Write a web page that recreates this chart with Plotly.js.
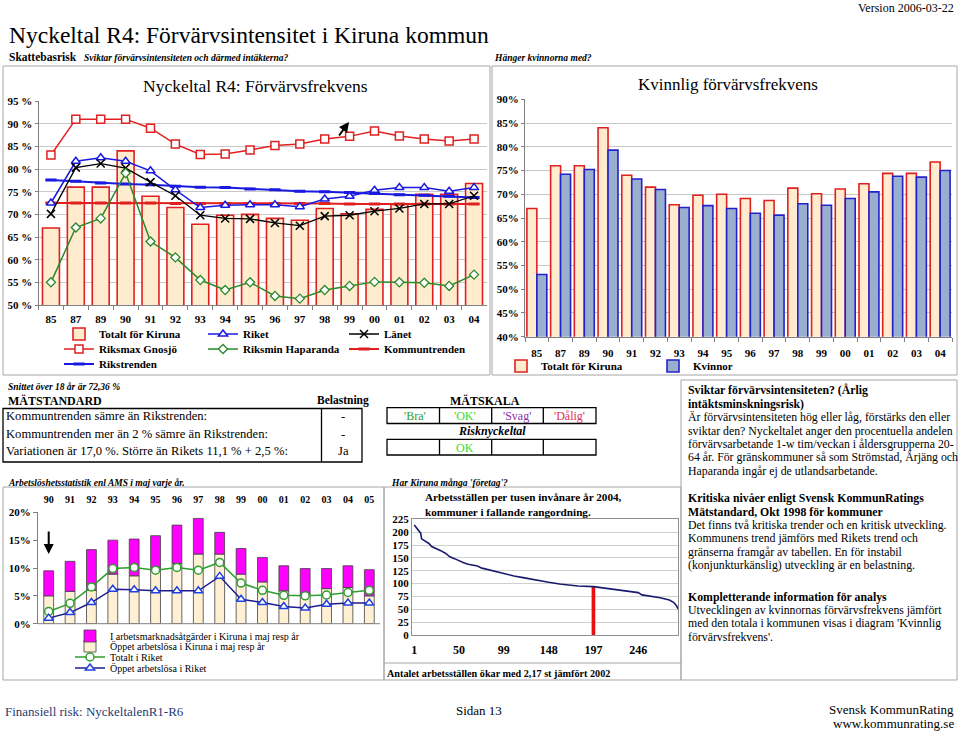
<!DOCTYPE html>
<html><head><meta charset="utf-8">
<script src="https://cdn.plot.ly/plotly-3.0.1.min.js"></script>
<style>html,body{margin:0;padding:0;background:#fff}#chart{width:960px;height:732px}</style>
</head><body><div id="chart"></div>
<script>
// ---------- DATA ----------
const years = ['85','87','89','90','91','92','93','94','95','96','97','98','99','00','01','02','03','04'];
const totaltKiruna = [67.0,76.0,76.0,84.0,74.0,71.5,67.8,69.8,70.0,69.1,68.7,71.3,70.1,71.1,72.2,74.4,74.4,76.8];
const riket = [72.5,81.7,82.5,81.7,79.6,75.4,71.5,72.0,72.1,72.1,71.7,73.4,74.0,75.3,75.9,75.9,75.1,75.9];
const lanet = [70.1,80.3,81.2,80.2,77.1,74.1,69.8,69.1,69.0,68.1,67.5,69.6,69.8,70.7,71.3,72.3,72.3,74.1];
const riksmaxGnosjo = [83.1,91.0,91.0,91.0,89.0,85.5,83.2,83.3,84.2,85.2,85.5,86.6,87.2,88.4,87.3,86.6,86.2,86.6];
const riksminHaparanda = [55.0,67.1,69.1,79.1,64.0,60.5,55.5,53.3,55.0,52.0,51.4,53.3,54.2,55.1,55.0,54.9,54.2,56.7];
const kommuntrenden = [72.5,72.5,72.5,72.5,72.5,72.4,72.4,72.4,72.4,72.4,72.4,72.4,72.3,72.3,72.3,72.3,72.3,72.3];
const rikstrenden = [77.6,77.3,76.9,76.7,76.5,76.2,76.0,75.9,75.6,75.4,75.1,75.0,74.8,74.6,74.3,74.2,74.0,73.7];
const kvinnor = [53.1,74.2,75.2,79.3,73.2,71.0,67.2,67.6,67.0,66.0,65.6,68.0,67.7,69.1,70.5,73.8,73.6,75.0];

const uYears = ['90','91','92','93','94','95','96','97','98','99','00','01','02','03','04','05'];
const oppetKiruna = [5.0,5.8,6.0,8.9,8.6,10.0,10.8,12.5,12.5,8.9,7.5,5.9,5.2,6.3,6.5,5.0];
const atgarderKiruna = [4.5,5.4,7.3,6.1,6.6,5.8,6.9,6.4,3.9,4.6,4.4,4.5,4.7,3.6,3.9,4.7];
const totaltRiket = [2.2,3.65,6.6,9.9,10.1,9.6,10.1,9.6,11.0,7.3,6.0,5.1,5.0,5.15,5.6,6.0];
const oppetRiket = [1.0,2.0,3.8,6.2,6.1,5.9,5.9,5.9,8.5,4.4,3.8,3.1,2.8,3.5,3.7,3.7];

const ranks = [1,3,5,8,9,12,17,20,25,30,35,40,45,50,55,60,70,75,80,90,99,110,120,130,140,148,160,170,180,197,210,220,230,240,246,250,260,270,280,285,288,290];
const arbetsstallen = [214,209,204,198,187,183.5,178,172,168.6,164,159,152,148.5,144,140.7,137.5,134,130,127.8,123,119.3,114.8,111.5,108.3,103.8,102.5,99.2,97.3,95.3,94,90.8,88.2,86.3,83.7,82.4,78,75.9,72.6,68,63,56.4,50];
const rankTicks = [1,50,99,148,197,246];
const kirunaRank = 197;
const kirunaValue = 95;

// ---------- HELPERS ----------
const W = 960, H = 732;
const SERIF = 'Liberation Serif, Times New Roman, serif';
const px = x => x / W;
const py = y => 1 - y / H;
const RED = '#E02020', BLUE = '#1A1AE0', GREEN = '#2A8A2A', PEACH = '#FFEBCD';

function txt(x, y, text, o) {
  o = o || {};
  return {x: px(x), y: py(y), xref: 'paper', yref: 'paper', text: text, showarrow: false,
    xanchor: o.anchor || 'left', yanchor: 'middle', borderpad: 0,
    font: {family: SERIF, size: o.size || 11, color: o.color || '#000',
      weight: o.bold ? 'bold' : 'normal', style: o.italic ? 'italic' : 'normal'}};
}
function rect(x0, y0, x1, y1, color, w) {
  return {type: 'rect', xref: 'paper', yref: 'paper', x0: px(x0), x1: px(x1), y0: py(y0), y1: py(y1),
    line: {color: color || '#A6A6A6', width: w || 1}, fillcolor: 'rgba(0,0,0,0)'};
}
function hline(x0, x1, y, color, w) {
  return {type: 'line', xref: 'paper', yref: 'paper', x0: px(x0), x1: px(x1), y0: py(y), y1: py(y),
    line: {color: color || '#A6A6A6', width: w || 1}};
}
function vline(x, y0, y1, color, w) {
  return {type: 'line', xref: 'paper', yref: 'paper', x0: px(x), x1: px(x), y0: py(y0), y1: py(y1),
    line: {color: color || '#A6A6A6', width: w || 1}};
}
function leg(textX, y, bold, size) {
  return {x: px(textX - 40), y: py(y), xanchor: 'left', yanchor: 'middle', orientation: 'v',
    bgcolor: 'rgba(0,0,0,0)', borderwidth: 0, itemwidth: 30, tracegroupgap: 0,
    font: {family: SERIF, size: size || 11, color: '#000', weight: bold ? 'bold' : 'normal'}};
}
const tickFont = s => ({family: SERIF, size: s || 11, color: '#000', weight: 'bold'});

// ---------- TRACES ----------
const traces = [];
// top-left
traces.push({type: 'bar', name: 'Totalt för Kiruna', x: years, y: totaltKiruna, xaxis: 'x', yaxis: 'y',
  width: 0.68, offset: -0.34, marker: {color: PEACH, line: {color: RED, width: 1.6}}, legend: 'legend'});
traces.push({type: 'scatter', mode: 'lines+markers', name: 'Kommuntrenden', x: years, y: kommuntrenden, xaxis: 'x', yaxis: 'y',
  line: {color: RED, width: 2}, marker: {symbol: 'line-ew', size: 8, line: {color: RED, width: 3}}, legend: 'legend6'});
traces.push({type: 'scatter', mode: 'lines+markers', name: 'Rikstrenden', x: years, y: rikstrenden, xaxis: 'x', yaxis: 'y',
  line: {color: BLUE, width: 2}, marker: {symbol: 'line-ew', size: 8, line: {color: BLUE, width: 3}}, legend: 'legend7'});
traces.push({type: 'scatter', mode: 'lines+markers', name: 'Riket', x: years, y: riket, xaxis: 'x', yaxis: 'y',
  line: {color: BLUE, width: 1.5}, marker: {symbol: 'triangle-up', size: 8, color: '#fff', line: {color: BLUE, width: 1.5}}, legend: 'legend2'});
traces.push({type: 'scatter', mode: 'lines+markers', name: 'Länet', x: years, y: lanet, xaxis: 'x', yaxis: 'y',
  line: {color: '#000', width: 1.3}, marker: {symbol: 'x-thin', size: 8, color: '#000', line: {color: '#000', width: 1.5}}, legend: 'legend3'});
traces.push({type: 'scatter', mode: 'lines+markers', name: 'Riksmax Gnosjö', x: years, y: riksmaxGnosjo, xaxis: 'x', yaxis: 'y',
  line: {color: RED, width: 1.5}, marker: {symbol: 'square', size: 8, color: '#fff', line: {color: RED, width: 1.5}}, legend: 'legend4'});
traces.push({type: 'scatter', mode: 'lines+markers', name: 'Riksmin Haparanda', x: years, y: riksminHaparanda, xaxis: 'x', yaxis: 'y',
  line: {color: GREEN, width: 1.5}, marker: {symbol: 'diamond', size: 7, color: '#fff', line: {color: GREEN, width: 1.3}}, legend: 'legend5'});
// top-right
traces.push({type: 'bar', name: 'Totalt för Kiruna', x: years, y: totaltKiruna, xaxis: 'x2', yaxis: 'y2',
  width: 0.42, offset: -0.42, marker: {color: PEACH, line: {color: RED, width: 1.6}}, legend: 'legend8'});
traces.push({type: 'bar', name: 'Kvinnor', x: years, y: kvinnor, xaxis: 'x2', yaxis: 'y2',
  width: 0.42, offset: 0, marker: {color: '#9AAFCD', line: {color: '#2222CC', width: 1.6}}, legend: 'legend9'});
// bottom-left
traces.push({type: 'bar', name: 'Öppet arbetslösa i Kiruna i maj resp år', x: uYears, y: oppetKiruna, xaxis: 'x3', yaxis: 'y3',
  width: 0.46, offset: -0.23, marker: {color: '#FFF0D4', line: {color: '#404040', width: 0.8}}, legend: 'legend11'});
traces.push({type: 'bar', name: 'I arbetsmarknadsåtgärder i Kiruna i maj resp år', x: uYears, y: atgarderKiruna, base: oppetKiruna, xaxis: 'x3', yaxis: 'y3',
  width: 0.46, offset: -0.23, marker: {color: '#FF00FF', line: {color: '#404040', width: 0.8}}, legend: 'legend10'});
traces.push({type: 'scatter', mode: 'lines+markers', name: 'Totalt i Riket', x: uYears, y: totaltRiket, xaxis: 'x3', yaxis: 'y3',
  line: {color: '#2E9E2E', width: 1.5}, marker: {symbol: 'circle', size: 8, color: '#fff', line: {color: '#2E9E2E', width: 1.5}}, legend: 'legend12'});
traces.push({type: 'scatter', mode: 'lines+markers', name: 'Öppet arbetslösa i Riket', x: uYears, y: oppetRiket, xaxis: 'x3', yaxis: 'y3',
  line: {color: '#1C1C8C', width: 1.5}, marker: {symbol: 'triangle-up', size: 8, color: '#fff', line: {color: '#2040E0', width: 1.5}}, legend: 'legend13'});
// bottom-middle
traces.push({type: 'scatter', mode: 'lines', x: ranks, y: arbetsstallen, xaxis: 'x4', yaxis: 'y4',
  line: {color: '#1B1B6E', width: 1.6}, showlegend: false});
traces.push({type: 'bar', x: [kirunaRank], y: [kirunaValue], xaxis: 'x4', yaxis: 'y4', width: 4,
  marker: {color: '#E81010', line: {width: 0}}, showlegend: false});

// ---------- TEXT ----------
const ann = [];
ann.push(txt(955, 8, 'Version 2006-03-22', {anchor: 'right', size: 12}));
ann.push(txt(8, 35, 'Nyckeltal R4: Förvärvsintensitet i Kiruna kommun', {size: 23.5}));
ann.push(txt(8, 57, 'Skattebasrisk', {size: 11.5, bold: true}));
ann.push(txt(83, 57.5, 'Sviktar förvärvsintensiteten och därmed intäkterna?', {size: 9.5, italic: true, bold: true}));
ann.push(txt(493, 57.5, 'Hänger kvinnorna med?', {size: 9.5, italic: true, bold: true}));
ann.push(txt(255, 86, 'Nyckeltal R4: Förvärvsfrekvens', {anchor: 'center', size: 17.5}));
ann.push(txt(728, 84, 'Kvinnlig förvärvsfrekvens', {anchor: 'center', size: 17}));

// middle
ann.push(txt(7, 387, 'Snittet över 18 år är 72,36 %', {size: 9.5, italic: true, bold: true}));
ann.push(txt(7, 400.5, 'MÄTSTANDARD', {size: 12, bold: true}));
ann.push(txt(342.5, 400.5, 'Belastning', {anchor: 'center', size: 11.5, bold: true}));
const stdRows = ['Kommuntrenden sämre än Rikstrenden:', 'Kommuntrenden mer än 2 % sämre än Rikstrenden:', 'Variationen är 17,0 %. Större än Rikets 11,1 % + 2,5 %:'];
const stdVals = ['-', '-', 'Ja'];
stdRows.forEach((r, i) => {
  ann.push(txt(4.5, 416 + i * 17.5, r, {size: 12.6}));
  ann.push(txt(343, 416 + i * 17.5, stdVals[i], {anchor: 'center', size: 12.6}));
});
ann.push(txt(485, 400.5, 'MÄTSKALA', {anchor: 'center', size: 12, bold: true}));
const scale = [['\'Bra\'', '#2E9E2E', 415], ['\'OK\'', '#33DD33', 465], ['\'Svag\'', '#8833AA', 517], ['\'Dålig\'', '#E03050', 569]];
scale.forEach(s => ann.push(txt(s[2], 415.5, s[0], {anchor: 'center', size: 12, color: s[1]})));
ann.push(txt(491.5, 431.5, 'Risknyckeltal', {anchor: 'center', size: 12, bold: true, italic: true}));
ann.push(txt(465, 447.5, 'OK', {anchor: 'center', size: 12, color: '#33DD33'}));
ann.push(txt(7, 483, 'Arbetslöshetsstatistik enl AMS i maj varje år.', {size: 9.5, italic: true, bold: true}));
ann.push(txt(390, 483, 'Har Kiruna många \'företag\'?', {size: 9.5, italic: true, bold: true}));

// bottom-middle chart text
ann.push(txt(424, 497, 'Arbetsställen per tusen invånare år 2004,', {size: 11.2, bold: true}));
ann.push(txt(424, 512, 'kommuner i fallande rangordning.', {size: 11.2, bold: true}));
ann.push(txt(386, 673, 'Antalet arbetsställen ökar med 2,17 st jämfört 2002', {size: 10.2, bold: true}));

// right column
const rightLines = [
  ['Sviktar förvärvsintensiteten? (Årlig', 390, true],
  ['intäktsminskningsrisk)', 404, true],
  ['Är förvärvsintensiteten hög eller låg, förstärks den eller', 417, false],
  ['sviktar den? Nyckeltalet anger den procentuella andelen', 431, false],
  ['förvärvsarbetande 1-w tim/veckan i åldersgrupperna 20-', 444, false],
  ['64 år. För gränskommuner så som Strömstad, Årjäng och', 457, false],
  ['Haparanda ingår ej de utlandsarbetande.', 471, false],
  ['Kritiska nivåer enligt Svensk KommunRatings', 498, true],
  ['Mätstandard, Okt 1998 för kommuner', 512, true],
  ['Det finns två kritiska trender och en kritisk utveckling.', 525, false],
  ['Kommunens trend jämförs med Rikets trend och', 538, false],
  ['gränserna framgår av tabellen. En för instabil', 552, false],
  ['(konjunkturkänslig) utveckling är en belastning.', 565, false],
  ['Kompletterande information för analys', 597, true],
  ['Utvecklingen av kvinnornas förvärvsfrekvens jämfört', 610, false],
  ['med den totala i kommunen visas i diagram \'Kvinnlig', 623, false],
  ['förvärvsfrekvens\'.', 637, false]
];
rightLines.forEach(l => ann.push(txt(687, l[1], l[0], {size: 11.8, bold: l[2]})));

// footer
ann.push(txt(4, 711, 'Finansiell risk: NyckeltalenR1-R6', {size: 13, color: '#1F3B73'}));
ann.push(txt(479, 710, 'Sidan 13', {anchor: 'center', size: 13}));
ann.push(txt(955, 709, 'Svensk KommunRating', {anchor: 'right', size: 13}));
ann.push(txt(955, 723, 'www.kommunrating.se', {anchor: 'right', size: 13}));

// arrows
ann.push({x: px(349), y: py(122), xref: 'paper', yref: 'paper', text: '', showarrow: true,
  ax: -11, ay: 15, arrowhead: 2, arrowsize: 1, arrowwidth: 2, arrowcolor: '#000'});
ann.push({x: px(48.7), y: py(554), xref: 'paper', yref: 'paper', text: '', showarrow: true,
  ax: 0, ay: -24, arrowhead: 2, arrowsize: 1, arrowwidth: 2, arrowcolor: '#000'});

// ---------- SHAPES ----------
const K = '#000';
const shapes = [
  rect(3, 66, 490, 375), rect(492, 66, 957, 375),
  rect(3, 487, 384, 680), rect(384, 487, 681, 680), hline(384, 681, 663),
  rect(681, 380, 957, 680),
  // Mätstandard table
  rect(3, 408.5, 362, 462, K, 1.3), vline(321.5, 408.5, 462, K, 1.3),
  // Mätskala boxes
  rect(387, 407.7, 596, 423.5, K, 1.3), vline(439.5, 407.7, 423.5, K, 1.3), vline(491.7, 407.7, 423.5, K, 1.3), vline(543.3, 407.7, 423.5, K, 1.3),
  rect(387, 439.3, 596, 455, K, 1.3), vline(439.5, 439.3, 455, K, 1.3), vline(491.7, 439.3, 455, K, 1.3), vline(543.3, 439.3, 455, K, 1.3),
  // bottom-left x axis baseline
  hline(38, 380, 623.7, '#808080', 1)
];

// ---------- LAYOUT ----------
const layout = {
  width: W, height: H, margin: {l: 0, r: 0, t: 0, b: 0}, paper_bgcolor: '#fff', plot_bgcolor: 'rgba(0,0,0,0)',
  barmode: 'overlay', font: {family: SERIF, color: '#000'},
  xaxis: {domain: [px(38.5), px(486.5)], anchor: 'y', type: 'category', range: [-0.5, 17.5],
    showline: true, linecolor: '#808080', ticks: 'outside', ticklen: 4, tickcolor: '#808080', tickson: 'boundaries',
    tickfont: tickFont(11), ticklabelstandoff: 4, showgrid: false},
  yaxis: {domain: [py(305), py(101)], anchor: 'x', range: [50, 95], dtick: 5, ticksuffix: ' %',
    showline: true, linecolor: '#808080', showgrid: true, gridcolor: '#C8C8C8', zeroline: false,
    ticks: 'outside', ticklen: 3, tickcolor: '#808080', tickfont: tickFont(11)},
  xaxis2: {domain: [px(525), px(952)], anchor: 'y2', type: 'category', range: [-0.5, 17.5],
    showline: true, linecolor: '#808080', ticks: 'outside', ticklen: 4, tickcolor: '#808080', tickson: 'boundaries',
    tickfont: tickFont(11), ticklabelstandoff: 6, showgrid: false},
  yaxis2: {domain: [py(336.7), py(99.3)], anchor: 'x2', range: [40, 90], dtick: 5, ticksuffix: '%',
    showline: true, linecolor: '#808080', showgrid: true, gridcolor: '#C8C8C8', zeroline: false,
    ticks: 'outside', ticklen: 3, tickcolor: '#808080', tickfont: tickFont(11)},
  xaxis3: {domain: [px(38), px(380)], anchor: 'y3', side: 'top', type: 'category', range: [-0.5, 15.5],
    showline: false, ticks: '', tickfont: tickFont(10), ticklabelstandoff: 6, showgrid: false},
  yaxis3: {domain: [py(623.7), py(512.3)], anchor: 'x3', range: [0, 20], dtick: 5, ticksuffix: '%',
    showline: true, linecolor: '#808080', showgrid: false, zeroline: false,
    ticks: 'outside', ticklen: 4, tickcolor: '#808080', tickfont: tickFont(11)},
  xaxis4: {domain: [px(412), px(678)], anchor: 'y4', range: [-1.5, 289.5], tickvals: rankTicks,
    showline: true, mirror: true, linecolor: '#909090', ticks: '', tickfont: tickFont(12), ticklabelstandoff: 4,
    showgrid: false, zeroline: false},
  yaxis4: {domain: [py(635), py(519.3)], anchor: 'x4', range: [0, 225], dtick: 25,
    showline: true, mirror: true, linecolor: '#909090', showgrid: true, gridcolor: '#D0D0D0', zeroline: false,
    ticks: '', tickfont: tickFont(11)},
  legend: leg(99, 334, true), legend2: leg(243, 334, true), legend3: leg(384, 334, true),
  legend4: leg(99, 349, true), legend5: leg(243, 349, true), legend6: leg(384, 349, true),
  legend7: leg(99, 364, true),
  legend8: leg(541, 366, true), legend9: leg(693, 366, true),
  legend10: leg(110, 636, false, 10), legend11: leg(110, 646, false, 10), legend12: leg(110, 657, false, 10), legend13: leg(110, 668, false, 10),
  annotations: ann, shapes: shapes
};

Plotly.newPlot('chart', traces, layout, {staticPlot: true, displayModeBar: false});
</script></body></html>
